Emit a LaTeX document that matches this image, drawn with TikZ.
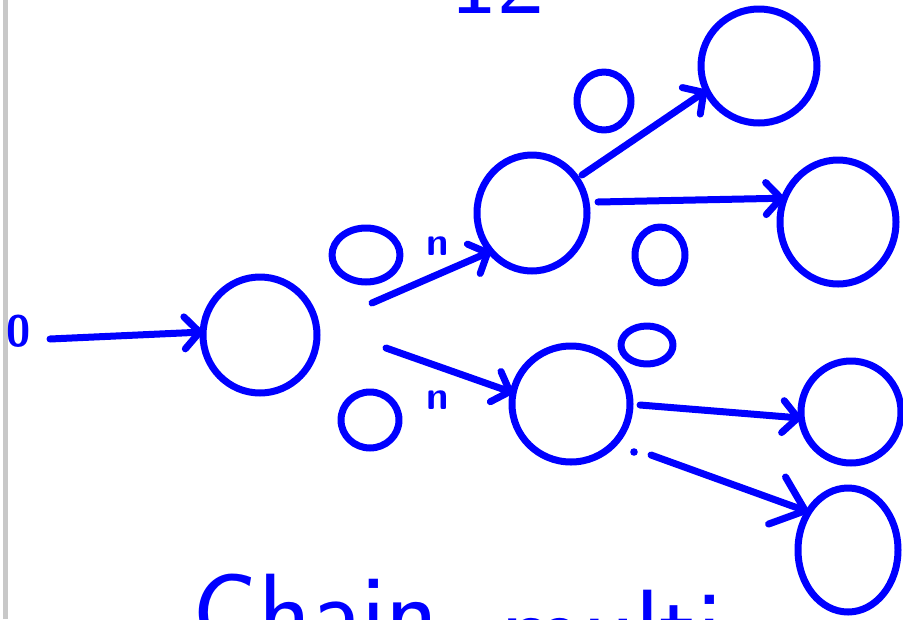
\documentclass[tikz,border=0pt]{standalone}
\usetikzlibrary{arrows.meta,shapes.geometric}
\definecolor{ink}{RGB}{0,0,255}
\definecolor{margin}{RGB}{200,200,200}
\begin{document}
\begin{tikzpicture}[x=1pt,y=-1pt,
  pen/.style={draw=ink, line width=7pt, line cap=round, line join=round},
  bubble/.style={pen, ellipse, inner sep=0pt, outer sep=0pt},
  arr/.style={pen, -{Straight Barb[length=15pt,width=32pt,round]}},
  bigarr/.style={pen, -{Straight Barb[length=30pt,width=50pt,round]}},
  hand/.style={text=ink, inner sep=0pt, font=\sffamily\bfseries\fontsize{#1}{#1}\selectfont},
  bigtext/.style={text=ink, inner sep=0pt, anchor=base west, font=\sffamily\fontsize{#1}{#1}\selectfont}]
\useasboundingbox (0,0) rectangle (903,619);
\clip (0,0) rectangle (903,619);

% page margin line
\fill[margin] (2.5,0) rectangle (7.5,619);

% page number and heading, cut by the page edges
\node[bigtext=100] (pagenum) at (450,13) {12};
\node[bigtext=110] (title1) at (192,650) {Chain};
\node[bigtext=110] (title2) at (500,666) {multi};

% start label
\node[hand=44] (start) at (19,331) {0};

% tree nodes
\node[bubble, minimum width=114pt, minimum height=116pt] (A) at (260,335) {};
\node[bubble, minimum width=110pt, minimum height=116pt] (B) at (532,213) {};
\node[bubble, minimum width=116pt, minimum height=114pt] (C) at (759,66) {};
\node[bubble, minimum width=116pt, minimum height=124pt] (D) at (838,222) {};
\node[bubble, minimum width=118pt, minimum height=116pt] (E) at (571,404) {};
\node[bubble, minimum width=100pt, minimum height=102pt] (F) at (851,412) {};
\node[bubble, minimum width=100pt, minimum height=124pt] (G) at (848,550) {};

% blank value circles beside the branches
\node[bubble, minimum width=68pt, minimum height=54pt] (wAB) at (366,255) {};
\node[bubble, minimum width=58pt, minimum height=56pt] (wAE) at (370,420) {};
\node[bubble, minimum width=54pt, minimum height=58pt] (wBC) at (604,101) {};
\node[bubble, minimum width=50pt, minimum height=56pt] (wBD) at (660,255) {};
\node[bubble, minimum width=52pt, minimum height=38pt] (wEF) at (647,345) {};

% small marks on the first branches
\node[hand=40, anchor=base] (nAB) at (438,255) {n};
\node[hand=40, anchor=base] (nAE) at (438,409) {n};

% branch start points
\coordinate (s0) at (50,339);
\coordinate (sAB) at (372,303);
\coordinate (sAE) at (386,348);
\coordinate (sBC) at (582,175);
\coordinate (sBD) at (598,202);
\coordinate (sEF) at (640,405);
\coordinate (sEG) at (651,455);

% branches
\draw[arr] (s0) -- (A.177);
\draw[arr] (sAB) -- (B.223);
\draw[arr] (sAE) -- (E.169);
\draw[arr] (sBC) -- (C.205);
\draw[arr] (sBD) -- (D.156);
\draw[arr] (sEF) -- (F.187);
\draw[bigarr] (sEG) -- (G.136);

% stray dot
\fill[ink] (634,452) circle (3.8);
\end{tikzpicture}
\end{document}
